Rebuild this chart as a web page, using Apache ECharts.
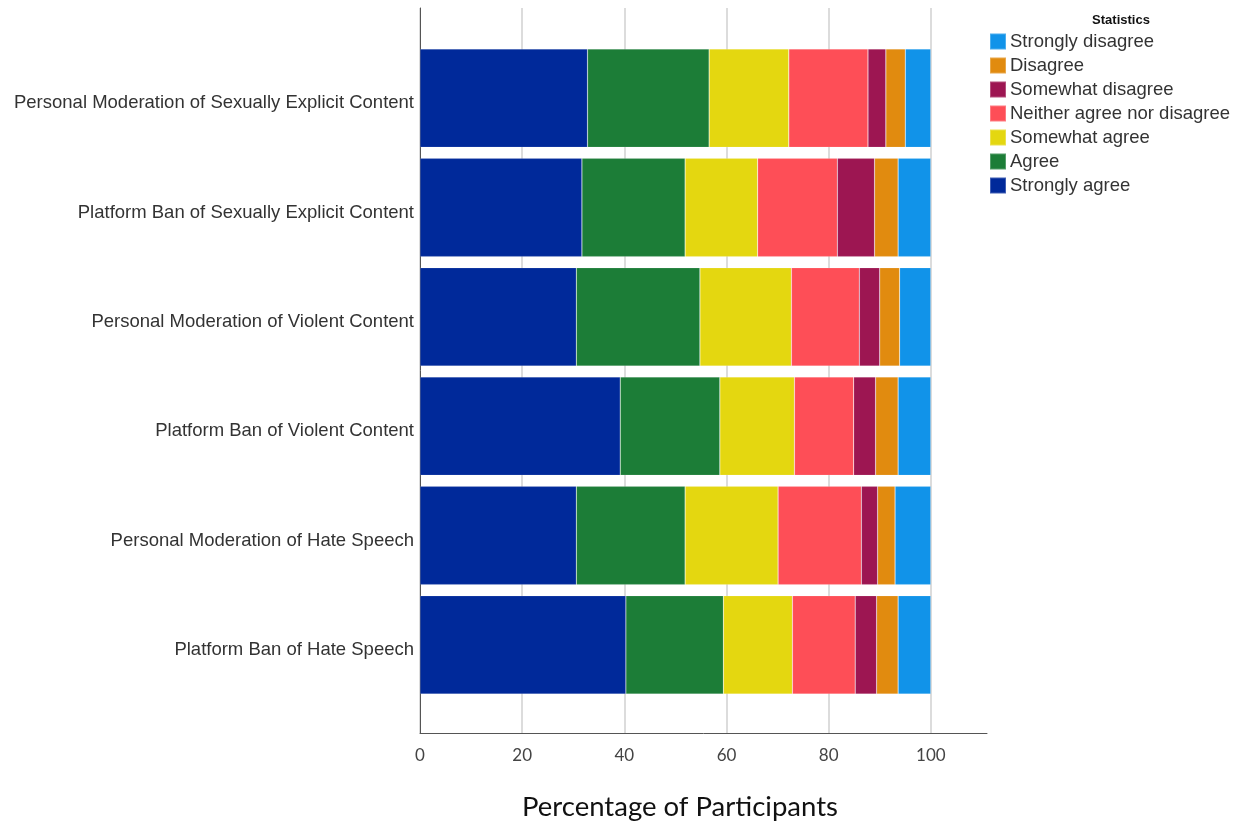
<!DOCTYPE html>
<html>
<head>
<meta charset="utf-8">
<script src="https://cdn.jsdelivr.net/npm/echarts@6/dist/echarts.min.js"></script>
<style>html,body{margin:0;padding:0;background:#fff}#c{width:1244px;height:822px}</style>
</head>
<body>
<div id="c"></div>
<script>
const categories = [
  "Personal Moderation of Sexually Explicit Content",
  "Platform Ban of Sexually Explicit Content",
  "Personal Moderation of Violent Content",
  "Platform Ban of Violent Content",
  "Personal Moderation of Hate Speech",
  "Platform Ban of Hate Speech"
];
const stronglyAgree    = [32.8, 31.7, 30.6, 39.2, 30.6, 40.3];
const agree            = [23.8, 20.2, 24.2, 19.5, 21.3, 19.1];
const somewhatAgree    = [15.6, 14.2, 17.9, 14.6, 18.2, 13.5];
const neither          = [15.5, 15.6, 13.3, 11.6, 16.3, 12.3];
const somewhatDisagree = [3.5, 7.3, 4.0, 4.3, 3.2, 4.2];
const disagree         = [3.8, 4.6, 3.9, 4.4, 3.4, 4.2];
const stronglyDisagree = [5.0, 6.4, 6.1, 6.4, 7.0, 6.4];
const xTicks = [0, 20, 40, 60, 80, 100];

const seriesDefs = [
  ["Strongly agree", stronglyAgree, "#00299A"],
  ["Agree", agree, "#1C7D37"],
  ["Somewhat agree", somewhatAgree, "#E4D710"],
  ["Neither agree nor disagree", neither, "#FE4E57"],
  ["Somewhat disagree", somewhatDisagree, "#9D1652"],
  ["Disagree", disagree, "#E18B0F"],
  ["Strongly disagree", stronglyDisagree, "#1193E9"]
];
const legendOrder = seriesDefs.map(d => d[0]).reverse();

const chart = echarts.init(document.getElementById('c'), null, {renderer: 'canvas'});
const gridCol = ['#d0d0d0','#d0d0d0','#d0d0d0','#d0d0d0','#d0d0d0','#d0d0d0','rgba(0,0,0,0)'];
chart.setOption({
  animation: false,
  backgroundColor: '#fff',
  title: [
    {text: 'Percentage of Participants', left: 675, top: 788, textAlign: 'center',
     textStyle: {fontFamily: 'Lato', fontSize: 27.5, fontWeight: 'normal', color: '#111'}},
    {text: 'Statistics', left: 1116, top: 9, textAlign: 'center',
     textStyle: {fontFamily: 'Liberation Sans', fontSize: 13, fontWeight: 'bold', color: '#111'}}
  ],
  legend: {
    orient: 'vertical', left: 984, top: 26,
    data: legendOrder,
    itemWidth: 16, itemHeight: 16, itemGap: 3,
    icon: 'rect',
    textStyle: {fontFamily: 'Liberation Sans', fontSize: 18.5, lineHeight: 21, color: '#333', padding: [0,0,0,-1]}
  },
  grid: [
    {left: 420, width: 567, top: 8, height: 725},
    {left: 420, width: 567, top: 43.5, height: 656}
  ],
  xAxis: [
    {type: 'value', gridIndex: 0, min: 0, max: 111, interval: 20,
     axisLine: {show: true, lineStyle: {color: '#555', width: 1}},
     axisTick: {show: false},
     splitLine: {show: true, lineStyle: {color: gridCol, width: 1.5}},
     axisLabel: {formatter: v => xTicks.indexOf(v) >= 0 ? String(v) : '', margin: 14,
       fontFamily: 'Lato', fontSize: 17, color: '#444'}},
    {type: 'value', gridIndex: 1, min: 0, max: 111, show: false}
  ],
  yAxis: [
    {type: 'value', gridIndex: 0, min: 0, max: 1,
     axisLine: {show: true, lineStyle: {color: '#555', width: 1}},
     axisTick: {show: false}, axisLabel: {show: false}, splitLine: {show: false}},
    {type: 'category', gridIndex: 1, data: categories, inverse: true,
     axisLine: {show: false}, axisTick: {show: false},
     axisLabel: {margin: 6, fontFamily: 'Liberation Sans', fontSize: 18.5, color: '#333',
       verticalAlign: 'top', lineHeight: 10}}
  ],
  series: seriesDefs.map(([name, vals, color]) => ({
    name, type: 'bar', stack: 'total', xAxisIndex: 1, yAxisIndex: 1,
    data: vals, barCategoryGap: '10%',
    itemStyle: {color, borderColor: 'rgba(255,255,255,0.25)', borderWidth: 0.6}
  }))
});
</script>
</body>
</html>
